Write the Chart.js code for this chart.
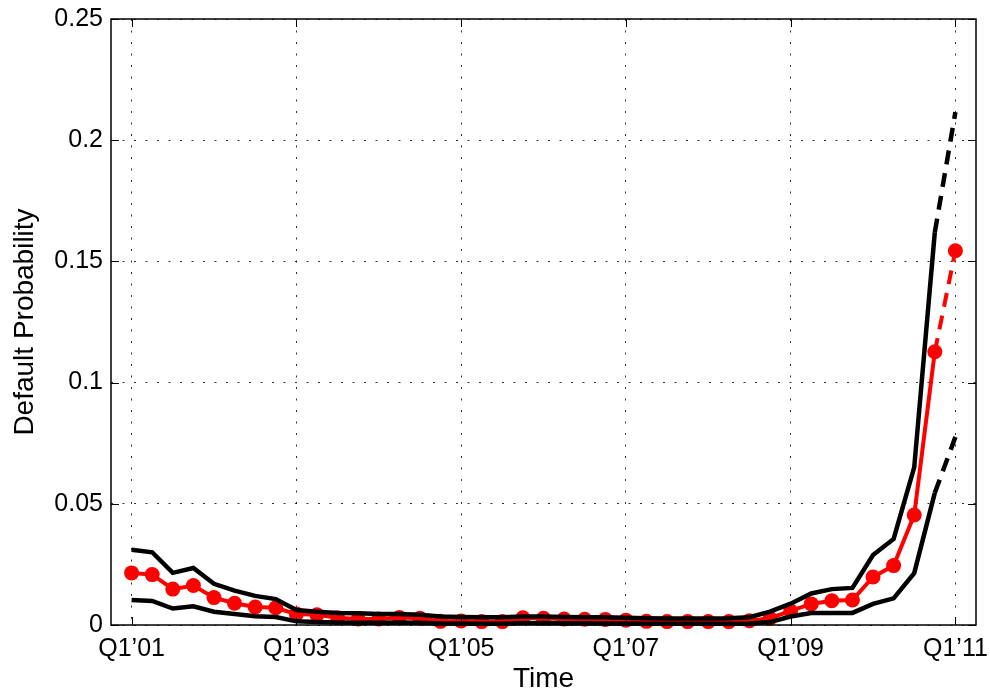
<!DOCTYPE html>
<html>
<head>
<meta charset="utf-8">
<script src="https://cdn.jsdelivr.net/npm/chart.js@4/dist/chart.umd.min.js"></script>
<style>
  html, body { margin: 0; padding: 0; background: #fff; }
  canvas { display: block; }
</style>
</head>
<body>
<canvas id="chartDefault" width="990" height="698"></canvas>
<script>
// quarters Q1'01 .. Q1'11, x = quarter index
const tickIndex = [0, 8, 16, 24, 32, 40];
const tickLabels = ['Q1\u201901', 'Q1\u201903', 'Q1\u201905', 'Q1\u201907', 'Q1\u201909', 'Q1\u201911'];
const yTicks = [0, 0.05, 0.1, 0.15, 0.2, 0.25];

const upperBand = [
  0.0310, 0.0300, 0.0215, 0.0235, 0.0170, 0.0142, 0.0120, 0.0107, 0.0062, 0.0055,
  0.0050, 0.0048, 0.0045, 0.0045, 0.0042, 0.0035, 0.0033, 0.0032, 0.0032, 0.0035,
  0.0035, 0.0033, 0.0032, 0.0032, 0.0030, 0.0028, 0.0027, 0.0027, 0.0027, 0.0028,
  0.0032, 0.0055, 0.0088, 0.0130, 0.0148, 0.0153, 0.0289, 0.0355, 0.0650, 0.1620,
  0.2116
];
const meanProb = [
  0.0215, 0.0208, 0.0148, 0.0163, 0.0113, 0.0090, 0.0074, 0.0071, 0.0045, 0.0042,
  0.0030, 0.0025, 0.0025, 0.0031, 0.0028, 0.0015, 0.0017, 0.0014, 0.0014, 0.0030,
  0.0028, 0.0025, 0.0024, 0.0023, 0.0020, 0.0015, 0.0014, 0.0014, 0.0014, 0.0014,
  0.0018, 0.0028, 0.0058, 0.0087, 0.0100, 0.0103, 0.0198, 0.0245, 0.0454, 0.1127,
  0.1544
];
const lowerBand = [
  0.0103, 0.0099, 0.0068, 0.0077, 0.0055, 0.0045, 0.0036, 0.0033, 0.0015, 0.0012,
  0.0010, 0.0009, 0.0009, 0.0010, 0.0009, 0.0006, 0.0006, 0.0005, 0.0005, 0.0008,
  0.0008, 0.0007, 0.0007, 0.0006, 0.0006, 0.0005, 0.0005, 0.0005, 0.0005, 0.0005,
  0.0006, 0.0012, 0.0035, 0.0049, 0.0050, 0.0050, 0.0087, 0.0110, 0.0214, 0.0545,
  0.0776
];

const FONT = "'Liberation Sans', Arial, Helvetica, sans-serif";
const lastIdx = meanProb.length - 1;

function toPoints(arr) {
    return arr.map((v, i) => ({ x: i, y: v }));
}

// last segment (forecast) is dashed
const dashLast = ctx => ctx.p1DataIndex === lastIdx ? [14, 9] : undefined;

// box + inner tick marks like matlab
const boxPlugin = {
    id: 'boxPlugin',
    afterDraw(chart) {
        const { ctx, chartArea: a, scales } = chart;
        ctx.save();
        ctx.strokeStyle = '#000';
        ctx.lineWidth = 1;
        ctx.beginPath();
        scales.x.ticks.forEach(t => {
            const px = Math.round(scales.x.getPixelForValue(t.value)) + 0.5;
            ctx.moveTo(px, a.bottom); ctx.lineTo(px, a.bottom - 8);
            ctx.moveTo(px, a.top); ctx.lineTo(px, a.top + 8);
        });
        scales.y.ticks.forEach(t => {
            const py = Math.round(scales.y.getPixelForValue(t.value)) + 0.5;
            ctx.moveTo(a.left, py); ctx.lineTo(a.left + 8, py);
            ctx.moveTo(a.right, py); ctx.lineTo(a.right - 8, py);
        });
        ctx.stroke();
        ctx.lineWidth = 1.5;
        ctx.strokeRect(a.left, a.top, a.right - a.left, a.bottom - a.top);
        ctx.restore();
    }
};

new Chart(document.getElementById('chartDefault'), {
    type: 'line',
    data: {
        datasets: [
            {
                label: 'Upper',
                data: toPoints(upperBand),
                borderColor: '#000',
                borderWidth: 4.5,
                pointRadius: 0,
                fill: false,
                clip: false,
                order: 1,
                segment: { borderDash: dashLast }
            },
            {
                label: 'Lower',
                data: toPoints(lowerBand),
                borderColor: '#000',
                borderWidth: 4.5,
                pointRadius: 0,
                fill: false,
                clip: false,
                order: 1,
                segment: { borderDash: dashLast }
            },
            {
                label: 'Default Probability',
                data: toPoints(meanProb),
                borderColor: '#ff0000',
                borderWidth: 4,
                pointRadius: 7.5,
                pointBorderWidth: 0,
                pointBackgroundColor: '#ff0000',
                fill: false,
                clip: false,
                order: 2,
                segment: { borderDash: dashLast }
            }
        ]
    },
    options: {
        responsive: false,
        animation: false,
        layout: { padding: { top: 19, right: 14, left: 0, bottom: 0 } },
        plugins: {
            legend: { display: false },
            tooltip: { enabled: false }
        },
        scales: {
            x: {
                type: 'linear',
                min: -1,
                max: 41,
                afterBuildTicks: s => { s.ticks = tickIndex.map(v => ({ value: v })); },
                afterFit: s => { s.height = 73; s.paddingLeft = 0; s.paddingRight = 0; },
                ticks: {
                    callback: (v, i) => tickLabels[i],
                    font: { family: FONT, size: 25 },
                    color: '#000',
                    padding: 9,
                    maxRotation: 0,
                    autoSkip: false
                },
                grid: { color: 'rgba(0,0,0,0.8)', lineWidth: 1, drawTicks: false },
                border: { display: false, dash: [2, 9.5] },
                title: {
                    display: true,
                    text: 'Time',
                    color: '#000',
                    font: { family: FONT, size: 28, lineHeight: 1 },
                    padding: { top: 0, bottom: 5 }
                }
            },
            y: {
                min: 0,
                max: 0.25,
                afterBuildTicks: s => { s.ticks = yTicks.map(v => ({ value: v })); },
                afterFit: s => { s.width = 111; s.paddingTop = 0; s.paddingBottom = 0; },
                ticks: {
                    callback: v => String(+v.toFixed(2)),
                    font: { family: FONT, size: 25 },
                    color: '#000',
                    padding: 8
                },
                grid: { color: 'rgba(0,0,0,0.8)', lineWidth: 1, drawTicks: false },
                border: { display: false, dash: [2, 9.5] },
                title: {
                    display: true,
                    text: 'Default Probability',
                    color: '#000',
                    font: { family: FONT, size: 28, lineHeight: 1 },
                    padding: { top: 11, bottom: 0 }
                }
            }
        }
    },
    plugins: [boxPlugin]
});
</script>
</body>
</html>
